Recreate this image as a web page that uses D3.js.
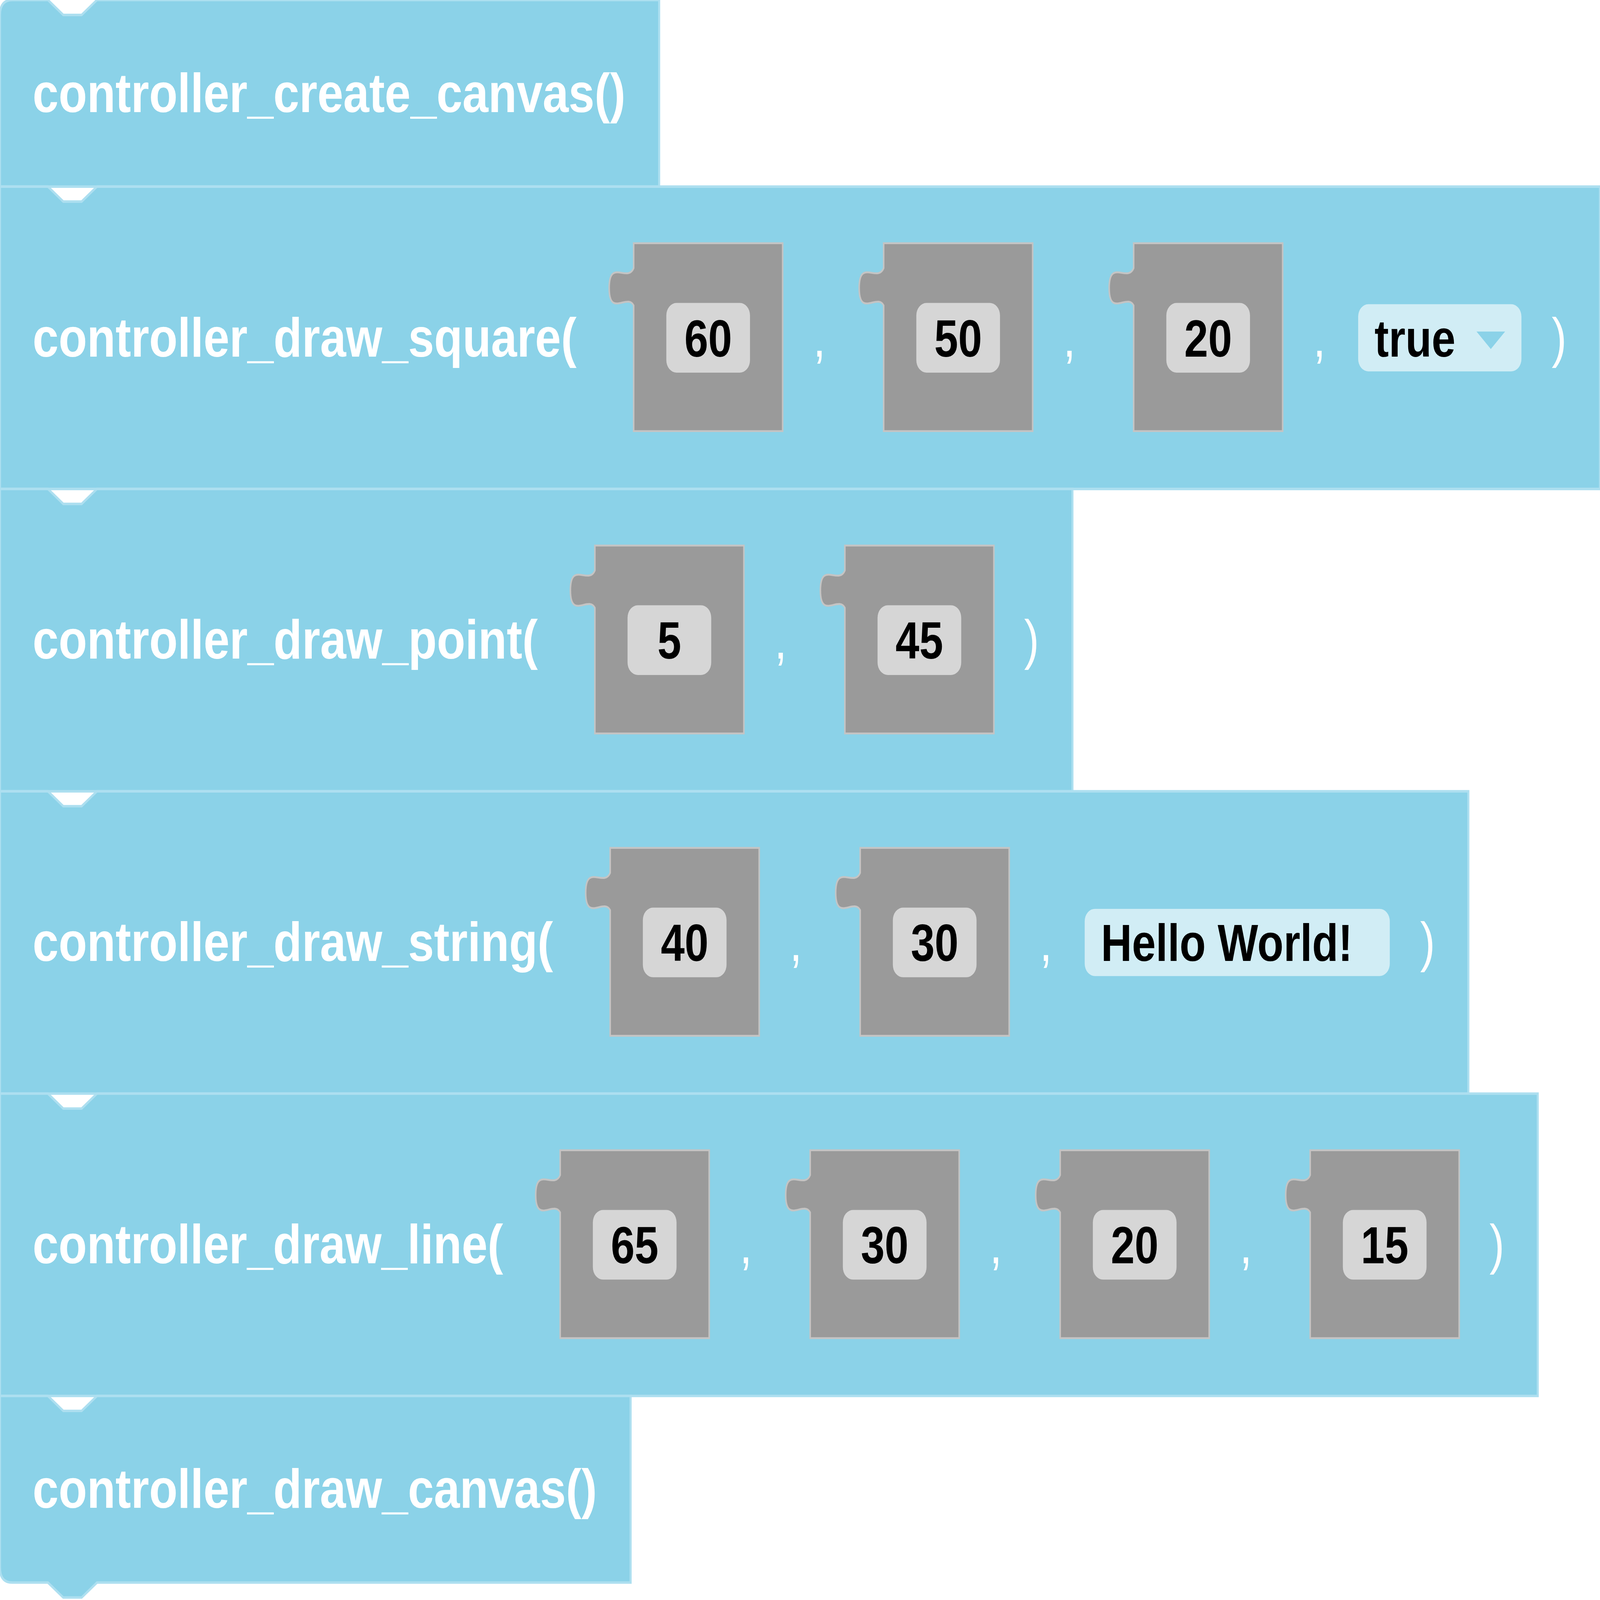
<!DOCTYPE html>
<html><head><meta charset="utf-8">
<script src="https://cdn.jsdelivr.net/npm/d3@7"></script>
<style>html,body{margin:0;padding:0;background:#fff;overflow:hidden}svg{display:block}</style>
</head><body>
<script>
// block program, top to bottom
var names = ['controller_create_canvas()', 'controller_draw_square(', 'controller_draw_point(',
	'controller_draw_string(', 'controller_draw_line(', 'controller_draw_canvas()'];
// each argument: [kind, value]  n = number slot, d = dropdown, s = text
var args = [
	[],
	[['n', '60'], ['n', '50'], ['n', '20'], ['d', 'true']],
	[['n', '5'], ['n', '45']],
	[['n', '40'], ['n', '30'], ['s', 'Hello World!']],
	[['n', '65'], ['n', '30'], ['n', '20'], ['n', '15']],
	[]
];
// label widths as drawn in the reference
var labelW = [581, 533, 495, 510, 461, 553];

var W = 1568, H = 1286;
var svg = d3.select('body').append('svg')
	.style('width', '100vw').style('height', '100vh')
	.attr('viewBox', '0 0 ' + W + ' ' + H).attr('preserveAspectRatio', 'none');

var fill = '#8bd2e8', edge = '#addff0', grey = '#9a9a9a';
var font = '"Liberation Sans", Arial, sans-serif';

var y0 = 0;
names.forEach(function (name, i) {
	var a = args[i];
	var h = a.length ? 243 : 150;
	var cy = y0 + h / 2;
	var x = 32 + labelW[i];
	var items = [];
	a.forEach(function (arg, j) {
		if (j > 0) { items.push({ t: 'comma', x: x + 36 }); x += 36; }
		if (arg[0] == 'n') {
			var bx = j == 0 ? x + 56 : x + 63;
			items.push({ t: 'n', x: bx, v: arg[1] });
			x = bx + 146;
		} else {
			var w = arg[0] == 'd' ? 160 : 299;
			var px = x + 38;
			items.push({ t: arg[0], x: px, w: w, v: arg[1] });
			x = px + w;
		}
	});
	var bw;
	if (a.length) { items.push({ t: 'close', x: x + 37 }); bw = x + 77; }
	else bw = 32 + labelW[i] + 33;

	var g = svg.append('g');
	var last = i == names.length - 1;
	var p = d3.path();
	p.moveTo(0, y0 + (i == 0 ? 12 : 0));
	if (i == 0) p.quadraticCurveTo(0, y0, 12, y0);
	p.lineTo(47, y0); p.lineTo(62, y0 + 12); p.lineTo(80, y0 + 12); p.lineTo(95, y0);
	p.lineTo(bw, y0); p.lineTo(bw, y0 + h);
	if (last) { p.lineTo(95, y0 + h); p.lineTo(80, y0 + h + 12); p.lineTo(62, y0 + h + 12); p.lineTo(47, y0 + h); p.lineTo(12, y0 + h); p.quadraticCurveTo(0, y0 + h, 0, y0 + h - 12); }
	else p.lineTo(0, y0 + h);
	p.closePath();
	g.append('path').attr('d', p.toString()).attr('fill', fill).attr('stroke', edge).attr('stroke-width', 2);

	g.append('text').attr('x', 32).attr('y', cy + 15).text(name)
		.attr('textLength', labelW[i]).attr('lengthAdjust', 'spacingAndGlyphs')
		.attr('font-family', font).attr('font-weight', 'bold').attr('font-size', 44).attr('fill', '#fff');

	items.forEach(function (it) {
		if (it.t == 'comma' || it.t == 'close') {
			g.append('text').attr('x', it.x).attr('y', cy + 15).attr('text-anchor', 'middle')
				.text(it.t == 'comma' ? ',' : ')').attr('font-family', font).attr('font-size', 44).attr('fill', '#fff');
		} else if (it.t == 'n') {
			var top = cy - 76, bx = it.x;
			var q = d3.path();
			q.moveTo(bx, top); q.lineTo(bx + 146, top); q.lineTo(bx + 146, top + 151); q.lineTo(bx, top + 151);
			q.lineTo(bx, top + 50);
			q.bezierCurveTo(bx - 6, top + 40, bx - 24, top + 60, bx - 24, top + 36);
			q.bezierCurveTo(bx - 24, top + 12, bx - 6, top + 32, bx, top + 20);
			q.closePath();
			g.append('path').attr('d', q.toString()).attr('fill', grey).attr('stroke', '#c4c4c4').attr('stroke-width', 1.5);
			g.append('rect').attr('x', bx + 32).attr('y', cy - 28).attr('width', 82).attr('height', 56).attr('rx', 10)
				.attr('fill', '#d6d6d6');
			g.append('text').attr('x', bx + 73).attr('y', cy + 15).attr('text-anchor', 'middle').text(it.v)
				.attr('font-family', font).attr('font-weight', 'bold').attr('font-size', 42).attr('fill', '#000');
		} else {
			g.append('rect').attr('x', it.x).attr('y', cy - 27).attr('width', it.w).attr('height', 54).attr('rx', 10)
				.attr('fill', '#d1edf5');
			g.append('text').attr('x', it.x + 16).attr('y', cy + 15).text(it.v)
				.attr('font-family', font).attr('font-weight', 'bold').attr('font-size', 42).attr('fill', '#000');
			if (it.t == 'd') {
				g.append('path').attr('d', 'M' + (it.x + 116) + ',' + (cy - 5) + 'l28,0l-14,14z').attr('fill', '#8bd2e8');
			}
		}
	});
	y0 += h;
});
</script>
</body></html>
